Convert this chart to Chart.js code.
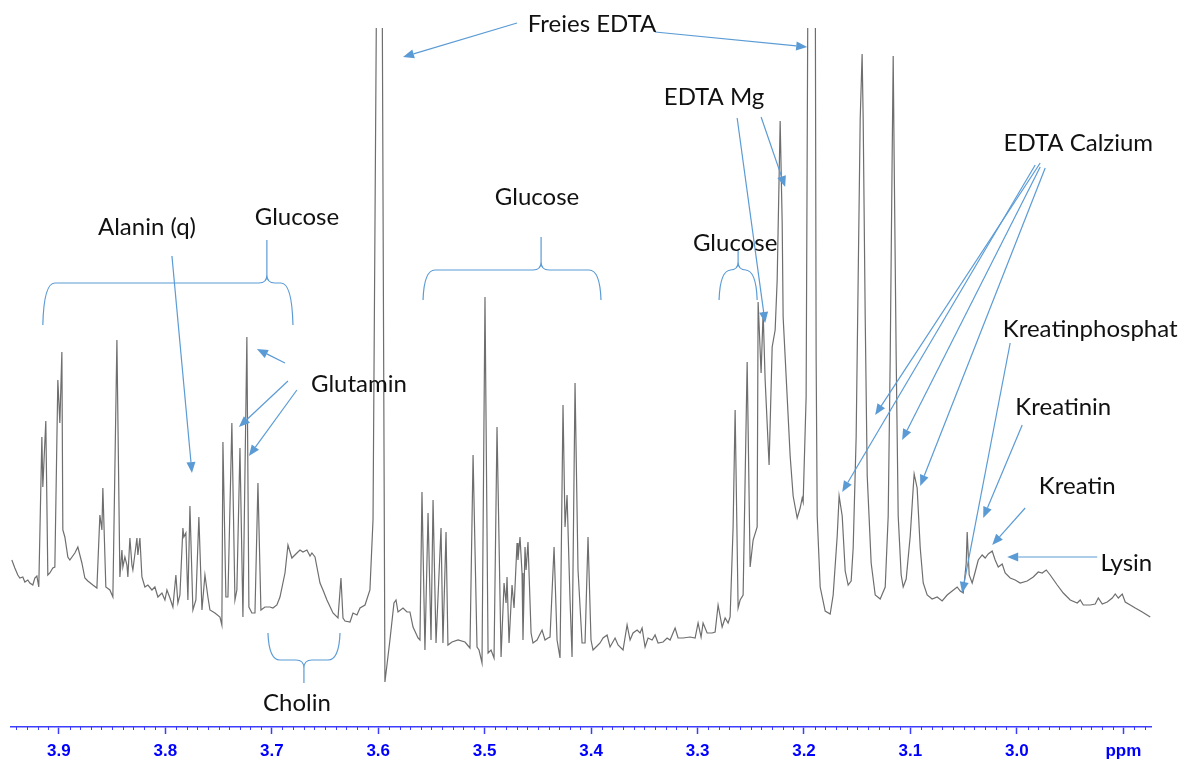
<!DOCTYPE html>
<html lang="de">
<head>
<meta charset="utf-8">
<title>1H-NMR Spektrum 3.95 - 2.87 ppm</title>
<script src="https://cdn.jsdelivr.net/npm/chart.js@4.4.1/dist/chart.umd.min.js"></script>
<style>
  html, body { margin: 0; padding: 0; background: #fff; }
  canvas { display: block; }
</style>
</head>
<body>
<canvas id="nmr" width="1190" height="763"></canvas>
<script>
// chemical shift (ppm) and intensity of the spectrum trace, same order in both arrays
const shiftPpm = [
  3.9442, 3.9414, 3.9386, 3.9367, 3.9339, 3.9320, 3.9292, 3.9273, 3.9245, 3.9226,
  3.9207, 3.9189, 3.9160, 3.9151, 3.9123, 3.9104, 3.9085, 3.9057, 3.9038, 3.9010,
  3.8991, 3.8972, 3.8963, 3.8944, 3.8916, 3.8897, 3.8850, 3.8822, 3.8784, 3.8756,
  3.8728, 3.8681, 3.8643, 3.8615, 3.8596, 3.8587, 3.8559, 3.8521, 3.8493, 3.8455,
  3.8427, 3.8408, 3.8399, 3.8380, 3.8361, 3.8352, 3.8333, 3.8314, 3.8305, 3.8267,
  3.8258, 3.8239, 3.8220, 3.8192, 3.8164, 3.8126, 3.8098, 3.8070, 3.8032, 3.8004,
  3.7985, 3.7957, 3.7929, 3.7901, 3.7882, 3.7863, 3.7835, 3.7826, 3.7807, 3.7797,
  3.7788, 3.7769, 3.7741, 3.7713, 3.7685, 3.7656, 3.7628, 3.7600, 3.7581, 3.7534,
  3.7487, 3.7469, 3.7459, 3.7431, 3.7412, 3.7375, 3.7346, 3.7328, 3.7299, 3.7271,
  3.7234, 3.7215, 3.7187, 3.7158, 3.7130, 3.7102, 3.7064, 3.7017, 3.6989, 3.6952,
  3.6923, 3.6876, 3.6848, 3.6811, 3.6764, 3.6735, 3.6707, 3.6670, 3.6641, 3.6623,
  3.6594, 3.6576, 3.6547, 3.6519, 3.6482, 3.6425, 3.6378, 3.6350, 3.6331, 3.6312,
  3.6265, 3.6237, 3.6200, 3.6171, 3.6124, 3.6078, 3.6049, 3.6012, 3.5965, 3.5937,
  3.5890, 3.5852, 3.5833, 3.5814, 3.5767, 3.5730, 3.5702, 3.5673, 3.5626, 3.5608,
  3.5589, 3.5561, 3.5532, 3.5504, 3.5485, 3.5457, 3.5410, 3.5392, 3.5363, 3.5345,
  3.5307, 3.5250, 3.5185, 3.5138, 3.5109, 3.5072, 3.5053, 3.5025, 3.4997, 3.4968,
  3.4940, 3.4912, 3.4884, 3.4846, 3.4818, 3.4799, 3.4790, 3.4771, 3.4743, 3.4724,
  3.4696, 3.4687, 3.4668, 3.4649, 3.4640, 3.4621, 3.4611, 3.4593, 3.4564, 3.4546,
  3.4508, 3.4461, 3.4433, 3.4405, 3.4386, 3.4348, 3.4320, 3.4292, 3.4264, 3.4245,
  3.4226, 3.4198, 3.4179, 3.4151, 3.4123, 3.4085, 3.4057, 3.4029, 3.4001, 3.3982,
  3.3935, 3.3916, 3.3888, 3.3850, 3.3822, 3.3775, 3.3747, 3.3700, 3.3662, 3.3634,
  3.3606, 3.3568, 3.3540, 3.3521, 3.3493, 3.3465, 3.3427, 3.3399, 3.3371, 3.3324,
  3.3286, 3.3258, 3.3211, 3.3183, 3.3136, 3.3070, 3.3023, 3.2995, 3.2967, 3.2948,
  3.2910, 3.2863, 3.2835, 3.2807, 3.2769, 3.2741, 3.2713, 3.2694, 3.2666, 3.2647,
  3.2619, 3.2600, 3.2572, 3.2534, 3.2506, 3.2478, 3.2440, 3.2431, 3.2403, 3.2384,
  3.2365, 3.2328, 3.2299, 3.2271, 3.2252, 3.2224, 3.2205, 3.2196, 3.2158, 3.2130,
  3.2102, 3.2064, 3.2036, 3.2017, 3.2008, 3.1980, 3.1961, 3.1895, 3.1886, 3.1876,
  3.1848, 3.1801, 3.1754, 3.1726, 3.1688, 3.1670, 3.1641, 3.1613, 3.1585, 3.1557,
  3.1538, 3.1510, 3.1491, 3.1472, 3.1454, 3.1444, 3.1425, 3.1406, 3.1369, 3.1331,
  3.1284, 3.1237, 3.1209, 3.1190, 3.1172, 3.1162, 3.1153, 3.1134, 3.1115, 3.1087,
  3.1068, 3.1040, 3.1002, 3.0974, 3.0965, 3.0937, 3.0908, 3.0880, 3.0843, 3.0796,
  3.0749, 3.0702, 3.0655, 3.0608, 3.0561, 3.0532, 3.0504, 3.0476, 3.0467, 3.0448,
  3.0420, 3.0392, 3.0363, 3.0326, 3.0298, 3.0269, 3.0232, 3.0204, 3.0175, 3.0138,
  3.0110, 3.0063, 3.0016, 2.9969, 2.9903, 2.9846, 2.9799, 2.9762, 2.9724, 2.9687,
  2.9621, 2.9564, 2.9499, 2.9433, 2.9405, 2.9376, 2.9311, 2.9264, 2.9235, 2.9198,
  2.9151, 2.9104, 2.9076, 2.9047, 2.9010, 2.8982, 2.8935, 2.8888, 2.8822, 2.8747
];

const intensity = [
  167, 159, 152, 149, 150, 145, 147, 144, 142, 149,
  151, 140, 290, 240, 306, 152, 154, 159, 160, 347,
  304, 375, 197, 190, 170, 167, 174, 180, 164, 149,
  146, 142, 139, 212, 197, 239, 140, 137, 130, 387,
  150, 177, 160, 170, 162, 150, 189, 162, 157, 189,
  172, 189, 150, 140, 142, 137, 140, 130, 134, 127,
  137, 129, 120, 152, 124, 132, 199, 190, 194, 157,
  127, 221, 117, 127, 210, 117, 152, 130, 117, 114,
  110, 102, 285, 130, 130, 304, 127, 137, 279, 110,
  390, 120, 114, 114, 244, 117, 120, 120, 119, 122,
  130, 154, 182, 169, 174, 177, 175, 177, 171, 174,
  170, 160, 144, 137, 127, 114, 109, 149, 109, 106,
  105, 114, 112, 119, 122, 137, 207, 800, 800, 45,
  87, 124, 127, 115, 119, 115, 115, 100, 89, 87,
  235, 77, 214, 87, 227, 84, 199, 84, 195, 82,
  85, 87, 85, 79, 272, 80, 77, 64, 430, 74,
  77, 69, 300, 70, 144, 124, 150, 84, 142, 119,
  184, 167, 190, 154, 87, 180, 157, 185, 94, 84,
  87, 97, 87, 89, 90, 180, 87, 69, 322, 200,
  232, 127, 70, 344, 157, 84, 84, 190, 87, 77,
  82, 84, 89, 92, 80, 89, 82, 77, 102, 87,
  94, 97, 94, 99, 80, 89, 87, 92, 84, 85,
  89, 87, 99, 89, 89, 90, 89, 104, 90, 104,
  94, 94, 95, 122, 100, 109, 104, 110, 200, 317,
  119, 127, 132, 365, 160, 187, 200, 425, 354, 415,
  347, 262, 380, 397, 447, 606, 505, 410, 330, 271,
  231, 209, 219, 229, 225, 330, 800, 800, 370, 211,
  140, 116, 113, 132, 191, 231, 211, 156, 142, 146,
  179, 290, 449, 608, 673, 608, 410, 251, 164, 132,
  128, 140, 211, 370, 568, 671, 568, 370, 211, 152,
  140, 148, 191, 239, 253, 239, 179, 144, 132, 128,
  130, 126, 132, 136, 140, 136, 134, 164, 195, 152,
  144, 155, 167, 172, 169, 173, 176, 167, 160, 163,
  154, 149, 147, 144, 146, 150, 155, 154, 157, 152,
  142, 134, 127, 124, 127, 122, 122, 123, 129, 123,
  125, 129, 133, 129, 133, 125, 122, 119, 115, 110
];

// labelled ticks of the ppm axis
const tickValues = [3.9, 3.8, 3.7, 3.6, 3.5, 3.4, 3.3, 3.2, 3.1, 3.0, 2.9];
const tickLabels = ['3.9', '3.8', '3.7', '3.6', '3.5', '3.4', '3.3', '3.2', '3.1', '3.0', 'ppm'];

// metabolite names, placed at [ppm, intensity]
const labelText  = ['Freies EDTA', 'EDTA Mg', 'Glucose', 'Glucose', 'Alanin (q)', 'Glucose',
                    'EDTA Calzium', 'Kreatinphosphat', 'Glutamin', 'Kreatinin', 'Kreatin', 'Lysin', 'Cholin'];
const labelPpm   = [3.3991, 3.2845, 3.4508, 3.6764, 3.8173, 3.2647, 2.9423, 2.9311, 3.6181, 2.9564, 2.9433, 2.8972, 3.6764];
const labelLevel = [703, 630, 530, 510, 500, 484, 584, 398, 343, 320, 241, 164, 24];

// arrows from a label to its signal: [ppm, intensity] start and tip
const arrowFrom = [[3.4696, 704], [3.3399, 695], [3.2628, 609], [3.2403, 610], [3.7938, 471],
                   [3.6876, 364], [3.6848, 346], [3.6764, 337], [2.9781, 564], [2.9828, 562],
                   [2.9781, 560], [2.9734, 559], [3.0063, 384], [2.9950, 302], [2.9922, 219], [2.9245, 170]];
const arrowTo   = [[3.5767, 670], [3.1970, 680], [3.2365, 404], [3.2177, 540], [3.7750, 254],
                   [3.7140, 378], [3.7309, 300], [3.7215, 271], [3.1331, 312], [3.1641, 235],
                   [3.1078, 287], [3.0908, 241], [3.0514, 134], [3.0316, 209], [3.0232, 182], [3.0091, 170]];

// braces grouping multiplets: ppm left, ppm right, ppm of the point, base level, end level, point level
const braces = [
  [3.9151, 3.6801, 3.7046, 444, 402, 487],
  [3.5579, 3.3907, 3.4470, 457, 427, 490],
  [3.2798, 3.2440, 3.2619, 457, 427, 477],
  [3.7036, 3.6359, 3.6698, 67, 94, 44]
];

const axisBlue = '#3c3cff';
const noteBlue = '#5b9bd5';
const isMajor = v => Math.round(v * 100) % 10 === 0;

function drawArrow(ctx, x0, y0, x1, y1) {
  const ang = Math.atan2(y1 - y0, x1 - x0);
  const len = 11, half = 4.5;
  const bx = x1 - len * Math.cos(ang), by = y1 - len * Math.sin(ang);
  ctx.beginPath();
  ctx.moveTo(x0, y0);
  ctx.lineTo(bx, by);
  ctx.stroke();
  ctx.beginPath();
  ctx.moveTo(x1, y1);
  ctx.lineTo(bx + half * Math.sin(ang), by - half * Math.cos(ang));
  ctx.lineTo(bx - half * Math.sin(ang), by + half * Math.cos(ang));
  ctx.closePath();
  ctx.fill();
}

function drawBrace(ctx, x1, x2, xs, yb, ye, yt) {
  const d = Math.sign(ye - yb);
  const r = 12, rs = 8;
  ctx.beginPath();
  ctx.moveTo(x1, ye);
  ctx.quadraticCurveTo(x1 + 1, yb, x1 + r, yb);
  ctx.lineTo(xs - rs, yb);
  ctx.quadraticCurveTo(xs, yb, xs, yb - d * rs);
  ctx.lineTo(xs, yt);
  ctx.moveTo(xs, yb - d * rs);
  ctx.quadraticCurveTo(xs, yb, xs + rs, yb);
  ctx.lineTo(x2 - r, yb);
  ctx.quadraticCurveTo(x2 - 1, yb, x2, ye);
  ctx.stroke();
}

// short 0.01 ppm ticks under the axis line
const minorTicks = {
  id: 'minorTicks',
  afterDraw(chart) {
    const x = chart.scales.x;
    const ctx = chart.ctx;
    ctx.save();
    ctx.strokeStyle = axisBlue;
    ctx.lineWidth = 1;
    x.ticks.forEach(t => {
      if (isMajor(t.value)) return;
      const p = Math.round(x.getPixelForValue(t.value)) + 0.5;
      ctx.beginPath();
      ctx.moveTo(p, x.top);
      ctx.lineTo(p, x.top + 3);
      ctx.stroke();
    });
    ctx.restore();
  }
};

// assignments: braces, arrows and names
const assignments = {
  id: 'assignments',
  afterDatasetsDraw(chart) {
    const { ctx, scales: { x, y } } = chart;
    const px = v => x.getPixelForValue(v);
    const py = v => y.getPixelForValue(v);
    ctx.save();
    ctx.strokeStyle = noteBlue;
    ctx.fillStyle = noteBlue;
    ctx.lineWidth = 1.2;
    braces.forEach(b => drawBrace(ctx, px(b[0]), px(b[1]), px(b[2]), py(b[3]), py(b[4]), py(b[5])));
    arrowFrom.forEach((a, i) => {
      const t = arrowTo[i];
      drawArrow(ctx, px(a[0]), py(a[1]), px(t[0]), py(t[1]));
    });
    ctx.fillStyle = '#111';
    ctx.font = '24px Lato';
    ctx.textAlign = 'center';
    ctx.textBaseline = 'middle';
    labelText.forEach((s, i) => ctx.fillText(s, px(labelPpm[i]), py(labelLevel[i])));
    ctx.restore();
  }
};

new Chart(document.getElementById('nmr'), {
  type: 'line',
  data: {
    datasets: [{
      data: shiftPpm.map((s, i) => ({ x: s, y: intensity[i] })),
      borderColor: '#6e6e6e',
      borderWidth: 1.2,
      pointRadius: 0,
      tension: 0,
      fill: false
    }]
  },
  options: {
    responsive: false,
    animation: false,
    layout: { padding: { left: 11, right: 39, top: 28, bottom: 0 } },
    plugins: { legend: { display: false }, tooltip: { enabled: false } },
    scales: {
      x: {
        type: 'linear',
        reverse: true,
        min: 2.874,
        max: 3.945,
        afterBuildTicks: scale => {
          const ticks = [];
          for (let k = 288; k <= 394; k++) ticks.push({ value: k / 100 });
          scale.ticks = ticks;
        },
        afterFit: scale => { scale.height = 36; },
        grid: {
          drawOnChartArea: false,
          tickLength: 7,
          tickWidth: 1.5,
          tickColor: c => isMajor(c.tick.value) ? axisBlue : 'rgba(0,0,0,0)'
        },
        border: { color: axisBlue, width: 1.5 },
        ticks: {
          autoSkip: false,
          maxRotation: 0,
          padding: 7,
          color: '#0000ff',
          font: { family: 'Liberation Sans', size: 17, weight: 'bold' },
          callback: value => {
            const i = tickValues.findIndex(v => Math.abs(v - value) < 1e-6);
            return i >= 0 ? tickLabels[i] : '';
          }
        }
      },
      y: { display: false, min: 0, max: 699 }
    }
  },
  plugins: [minorTicks, assignments]
});
</script>
</body>
</html>
